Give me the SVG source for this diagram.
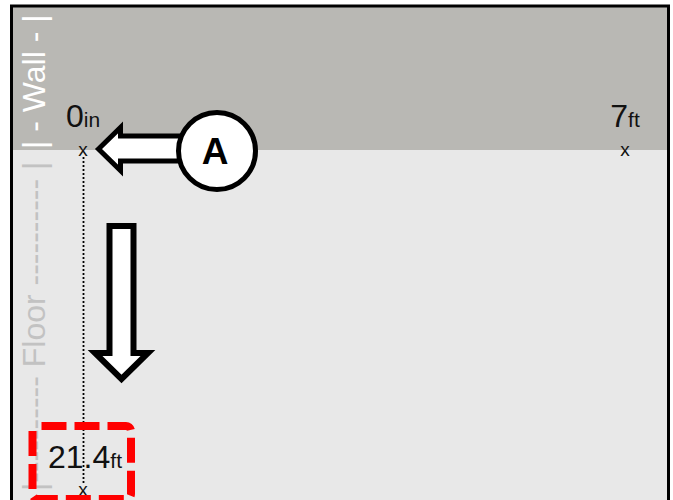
<svg xmlns="http://www.w3.org/2000/svg" width="673" height="500" viewBox="0 0 673 500">
  <style>
    .lbl { font-family: "Liberation Sans", Arial, sans-serif; fill: #111111; }
    .num { font-size: 32px; }
    .unit { font-size: 21px; }
    .mark { font-family: "Liberation Sans", Arial, sans-serif; font-size: 19px; fill: #111111; text-anchor: middle; }
    .side { font-family: "Liberation Sans", Arial, sans-serif; font-size: 32px; }
    .callout { fill: #ffffff; stroke: #000000; stroke-width: 5; stroke-linejoin: miter; }
  </style>
  <rect x="0" y="0" width="673" height="500" fill="#ffffff"/>
  <g id="floor">
    <rect x="11.5" y="150" width="657" height="360" fill="#e8e8e8"/>
  </g>
  <g id="wall">
    <rect x="11.5" y="6" width="657" height="144" fill="#b9b8b4"/>
  </g>
  <g id="border">
    <rect x="11.5" y="6" width="657" height="520" fill="none" stroke="#000000" stroke-width="3"/>
  </g>
  <g id="wall-label">
    <text class="side" transform="translate(45,149) rotate(-90)" fill="#ffffff">| - Wall - |</text>
  </g>
  <g id="floor-label">
    <text class="side" transform="translate(45,491) rotate(-90)" fill="#c2c2c2">|---------- Floor ---------- |</text>
  </g>
  <g id="connectors">
    <line x1="83.5" y1="157" x2="83.5" y2="484" stroke="#000000" stroke-width="1.8" stroke-dasharray="2 2"/>
  </g>
  <g id="point-0in">
    <text class="lbl num" x="83" y="127" text-anchor="middle">0<tspan class="unit">in</tspan></text>
    <text class="mark" x="83" y="156">x</text>
  </g>
  <g id="point-7ft">
    <text class="lbl num" x="625" y="127" text-anchor="middle">7<tspan class="unit">ft</tspan></text>
    <text class="mark" x="625" y="156">x</text>
  </g>
  <g id="point-21ft">
    <text class="lbl num" x="85" y="468" text-anchor="middle">21.4<tspan class="unit">ft</tspan></text>
    <text class="mark" x="83" y="496">x</text>
  </g>
  <g id="highlight">
    <rect x="32.5" y="426" width="98.5" height="73" rx="5" fill="none" stroke="#ff0000" stroke-width="8" stroke-dasharray="25 8" stroke-dashoffset="-4"/>
  </g>
  <g id="callout-a">
    <path class="callout" d="M98.5,149 L120.5,127.5 L120.5,136 L185,136 L185,161 L120.5,161 L120.5,170.5 Z"/>
    <circle class="callout" cx="217" cy="151" r="38.5"/>
    <text x="215" y="164" text-anchor="middle" font-family="Liberation Sans, Arial, sans-serif" font-weight="bold" font-size="37" fill="#000000">A</text>
  </g>
  <g id="down-arrow">
    <path d="M109.5,226 L133.5,226 L133.5,353 L148,353 L121.5,379 L95,353 L109.5,353 Z" fill="#ffffff" stroke="#000000" stroke-width="6" stroke-linejoin="miter"/>
  </g>
</svg>
